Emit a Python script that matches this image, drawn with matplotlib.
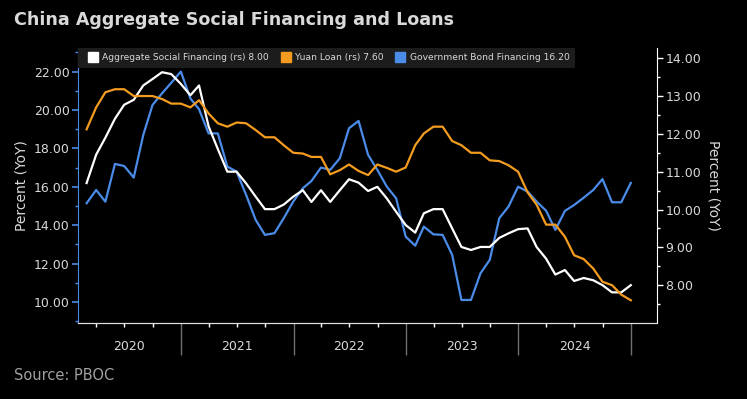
import matplotlib
matplotlib.use("Agg")
import matplotlib.pyplot as plt
import matplotlib.dates as mdates
from matplotlib.lines import Line2D
import pandas as pd

# monthly YoY growth, Feb 2020 - Dec 2024
dates = pd.date_range("2020-02-29", "2024-12-31", freq="ME")

# Aggregate social financing (right axis)
tsf = [10.7, 11.45, 11.9, 12.4, 12.77, 12.9, 13.28, 13.45, 13.63, 13.58, 13.32, 13.02,
       13.28, 12.2, 11.6, 11.0, 11.0, 10.69, 10.34, 10.01, 10.01, 10.13, 10.34, 10.51,
       10.2, 10.51, 10.2, 10.51, 10.8, 10.71, 10.49, 10.6, 10.29, 9.94, 9.59, 9.39,
       9.9, 10.01, 10.01, 9.5, 9.01, 8.93, 9.01, 9.01, 9.25, 9.37, 9.48, 9.5,
       9.01, 8.7, 8.28, 8.4, 8.11, 8.19, 8.13, 8.0, 7.81, 7.81, 8.0]

# Yuan loans (right axis)
loans = [12.12, 12.7, 13.1, 13.18, 13.18, 13.0, 13.0, 13.0, 12.92, 12.8, 12.8, 12.7,
         12.89, 12.54, 12.28, 12.19, 12.3, 12.28, 12.1, 11.91, 11.91, 11.7, 11.5, 11.48,
         11.39, 11.39, 10.93, 11.04, 11.19, 11.02, 10.91, 11.19, 11.1, 11.0, 11.11, 11.7,
         12.01, 12.19, 12.19, 11.81, 11.7, 11.5, 11.5, 11.3, 11.28, 11.17, 11.0, 10.45,
         10.13, 9.6, 9.6, 9.28, 8.79, 8.69, 8.44, 8.09, 8.0, 7.75, 7.6]

# Government bond financing (left axis)
gov = [15.14, 15.83, 15.22, 17.19, 17.08, 16.48, 18.7, 20.26, 20.87, 21.42, 22.0, 20.6,
       20.04, 18.78, 18.78, 17.05, 16.79, 15.57, 14.27, 13.49, 13.58, 14.36, 15.23, 15.92,
       16.3, 17.0, 16.88, 17.48, 19.05, 19.43, 17.66, 16.88, 16.0, 15.4, 13.4, 12.93,
       13.92, 13.52, 13.49, 12.45, 10.1, 10.1, 11.49, 12.19, 14.36, 14.97, 16.0, 15.75,
       15.23, 14.75, 13.75, 14.74, 15.05, 15.43, 15.83, 16.4, 15.19, 15.19, 16.2]

years = ["2020", "2021", "2022", "2023", "2024"]

BG = "black"
TXT = "#d9d9d9"
WHITE = "#ffffff"
ORANGE = "#f39c1f"
BLUE = "#4a8ce8"

fig = plt.figure(figsize=(7.47, 3.99), dpi=100, facecolor=BG)
ax = fig.add_axes([0.1044, 0.1905, 0.7751, 0.6892], facecolor=BG)
ax2 = ax.twinx()

ax.plot(dates, gov, color=BLUE, linewidth=1.6)
ax2.plot(dates, tsf, color=WHITE, linewidth=1.6)
ax2.plot(dates, loans, color=ORANGE, linewidth=1.6)

ax.set_ylim(8.9, 23.23)
ax2.set_ylim(7.0, 14.27)
ax.set_xlim(pd.Timestamp("2020-02-01"), pd.Timestamp("2025-03-26"))

ax.set_yticks([10, 12, 14, 16, 18, 20, 22])
ax.set_yticks([9, 11, 13, 15, 17, 19, 21, 23], minor=True)
ax.set_yticklabels([f"{v:.2f}" for v in [10, 12, 14, 16, 18, 20, 22]])
ax2.set_yticks([8, 9, 10, 11, 12, 13, 14])
ax2.set_yticks([7.5, 8.5, 9.5, 10.5, 11.5, 12.5, 13.5], minor=True)
ax2.set_yticklabels([f"{v:.2f}" for v in [8, 9, 10, 11, 12, 13, 14]])

ax.tick_params(axis="y", which="major", colors=BLUE, labelcolor=TXT, labelsize=9, length=4, width=1.2, pad=2)
ax.tick_params(axis="y", which="minor", colors=BLUE, length=2, width=1)
ax2.tick_params(axis="y", which="major", colors=WHITE, labelcolor=TXT, labelsize=9, length=4, width=1, pad=2)
ax2.tick_params(axis="y", which="minor", colors=WHITE, length=2, width=1)

# year separators + quarterly ticks
ax.xaxis.set_major_locator(mdates.YearLocator())
ax.xaxis.set_minor_locator(mdates.MonthLocator(bymonth=[4, 7, 10]))
ax.xaxis.set_major_formatter(plt.NullFormatter())
ax.tick_params(axis="x", which="major", colors="#707070", length=23, width=1)
ax.tick_params(axis="x", which="minor", colors=WHITE, length=3, width=1)
ax2.tick_params(axis="x", which="both", bottom=False)

label_pos = [pd.Timestamp("2020-07-16"), pd.Timestamp("2021-07-01"), pd.Timestamp("2022-07-01"),
             pd.Timestamp("2023-07-01"), pd.Timestamp("2024-07-01")]
for d, yr in zip(label_pos, years):
    ax.text(d, -0.085, yr, transform=ax.get_xaxis_transform(), ha="center", va="center",
            color=TXT, fontsize=9)

for a in (ax, ax2):
    a.spines["top"].set_visible(False)
    a.spines["bottom"].set_color("#e0e0e0")
ax.spines["left"].set_color(BLUE)
ax.spines["right"].set_visible(False)
ax2.spines["left"].set_visible(False)
ax2.spines["right"].set_color(WHITE)

ax.set_ylabel("Percent (YoY)", color=TXT, fontsize=10, labelpad=4)
ax2.set_ylabel("Percent (YoY)", color=TXT, fontsize=10, rotation=270, labelpad=14)

handles = [Line2D([], [], marker="s", linestyle="none", color=c, markersize=7)
           for c in (WHITE, ORANGE, BLUE)]
labels = ["Aggregate Social Financing (rs) 8.00", "Yuan Loan (rs) 7.60",
          "Government Bond Financing 16.20"]
leg = ax2.legend(handles, labels, loc="upper left", bbox_to_anchor=(0, 1), ncol=3,
                 fontsize=6.6, frameon=True, facecolor="#1c1c1c", edgecolor="none",
                 framealpha=1, fancybox=False, borderaxespad=0, handletextpad=0.05,
                 columnspacing=0.8, borderpad=0.6)
for t in leg.get_texts():
    t.set_color(TXT)

fig.text(0.019, 0.95, "China Aggregate Social Financing and Loans", color=TXT,
         fontsize=12.6, fontweight="bold", ha="left", va="center")
fig.text(0.019, 0.058, "Source: PBOC", color="#a0a0a0", fontsize=10.5, ha="left", va="center")

fig.savefig("out.png", dpi=100, facecolor=BG)
